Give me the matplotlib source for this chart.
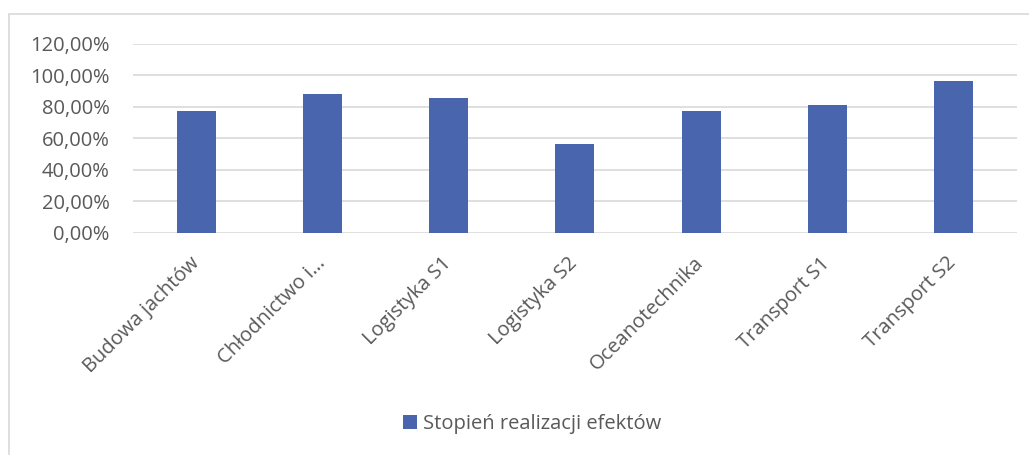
import matplotlib.pyplot as plt
from matplotlib.patches import Rectangle
from matplotlib.ticker import FuncFormatter

# kierunki studiow i stopien realizacji efektow
categories = ['Budowa jachtów', 'Chłodnictwo i…', 'Logistyka S1', 'Logistyka S2',
              'Oceanotechnika', 'Transport S1', 'Transport S2']
values = [0.770, 0.882, 0.857, 0.563, 0.770, 0.808, 0.964]
series_name = 'Stopień realizacji efektów'

plt.rcParams['font.family'] = ['Open Sans', 'DejaVu Sans']
txt = '#595959'
fs = 14.5

fig = plt.figure(figsize=(10.29, 4.55), dpi=100)
ax = fig.add_axes([0.1293, 0.489, 0.8587, 0.415])

# ramka wykresu jak w Excelu (prawa krawedz poza obrazkiem)
fig.patches.append(Rectangle((9 / 1029, -0.1), 1.2, (455 - 14) / 455 + 0.1,
                             transform=fig.transFigure, fill=False,
                             edgecolor='#d9d9d9', linewidth=1.2))

x = range(len(categories))
ax.bar(x, values, width=0.31, color='#4865ad', label=series_name, zorder=3)

ax.set_xlim(-0.5, len(categories) - 0.5)
ax.set_ylim(0, 1.2)
ax.set_yticks([0, 0.2, 0.4, 0.6, 0.8, 1.0, 1.2])
ax.yaxis.set_major_formatter(FuncFormatter(lambda v, p: f'{v*100:.2f}%'.replace('.', ',')))
ax.grid(axis='y', color='#d9d9d9', linewidth=1.2, zorder=0)

for s in ax.spines.values():
    s.set_visible(False)

ax.tick_params(axis='y', length=0, pad=17, labelsize=fs, labelcolor=txt)
ax.tick_params(axis='x', length=0, pad=20, labelsize=fs, labelcolor=txt)
ax.set_xticks(list(x))
ax.set_xticklabels(categories, rotation=45, ha='right', va='center', rotation_mode='anchor')

fig.legend(loc='center', bbox_to_anchor=(532 / 1029, 1 - 424 / 455), frameon=False,
           fontsize=fs, labelcolor=txt, handlelength=0.7, handleheight=0.7,
           handletextpad=0.3)

fig.savefig('out.png', dpi=100)
